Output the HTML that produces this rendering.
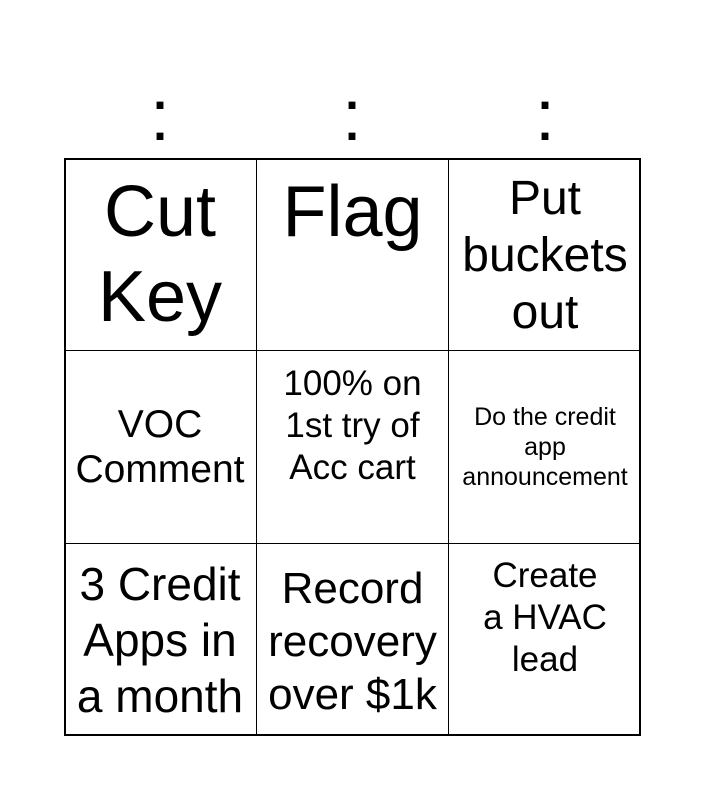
<!DOCTYPE html>
<html><head><style>
body{margin:0;width:705px;height:800px;background:#fff;font-family:"Liberation Sans",Arial,sans-serif;position:relative;overflow:hidden}
.h{position:absolute;top:78px;font-size:72px;line-height:76px;width:100px;text-align:center}
.grid{position:absolute;left:64px;top:158px;width:577px;height:578px;border:2px solid #000;box-sizing:border-box}
.c{position:absolute;box-sizing:border-box;border-right:1.5px solid #000;border-bottom:1.5px solid #000;text-align:center;color:#000}
.c div{position:absolute;left:-10px;right:-10px;white-space:nowrap}
</style></head><body>
<div class="h" style="left:110px">:</div>
<div class="h" style="left:302px">:</div>
<div class="h" style="left:495px">:</div>
<div class="grid"></div>
<div class="c" style="left:64px;top:158px;width:193px;height:193px"><div style="top:12px;font-size:72px;line-height:85px">Cut<br>Key</div></div>
<div class="c" style="left:257px;top:158px;width:192px;height:193px"><div style="top:12px;font-size:72px;line-height:85px">Flag</div></div>
<div class="c" style="left:449px;top:158px;width:192px;height:193px;border-right:none"><div style="top:12px;font-size:48px;line-height:57px">Put<br>buckets<br>out</div></div>
<div class="c" style="left:64px;top:351px;width:193px;height:193px"><div style="top:51px;font-size:39px;line-height:45px">VOC<br>Comment</div></div>
<div class="c" style="left:257px;top:351px;width:192px;height:193px"><div style="top:12px;font-size:35px;line-height:42px">100% on<br>1st try of<br>Acc cart</div></div>
<div class="c" style="left:449px;top:351px;width:192px;height:193px;border-right:none"><div style="top:51px;font-size:25px;line-height:30px">Do the credit<br>app<br>announcement</div></div>
<div class="c" style="left:64px;top:544px;width:193px;height:192px;border-bottom:none"><div style="top:12px;font-size:46px;line-height:56px">3 Credit<br>Apps in<br>a month</div></div>
<div class="c" style="left:257px;top:544px;width:192px;height:192px;border-bottom:none"><div style="top:18px;font-size:44px;line-height:53px">Record<br>recovery<br>over $1k</div></div>
<div class="c" style="left:449px;top:544px;width:192px;height:192px;border:none"><div style="top:11px;font-size:35px;line-height:42px">Create<br>a HVAC<br>lead</div></div>
</body></html>
